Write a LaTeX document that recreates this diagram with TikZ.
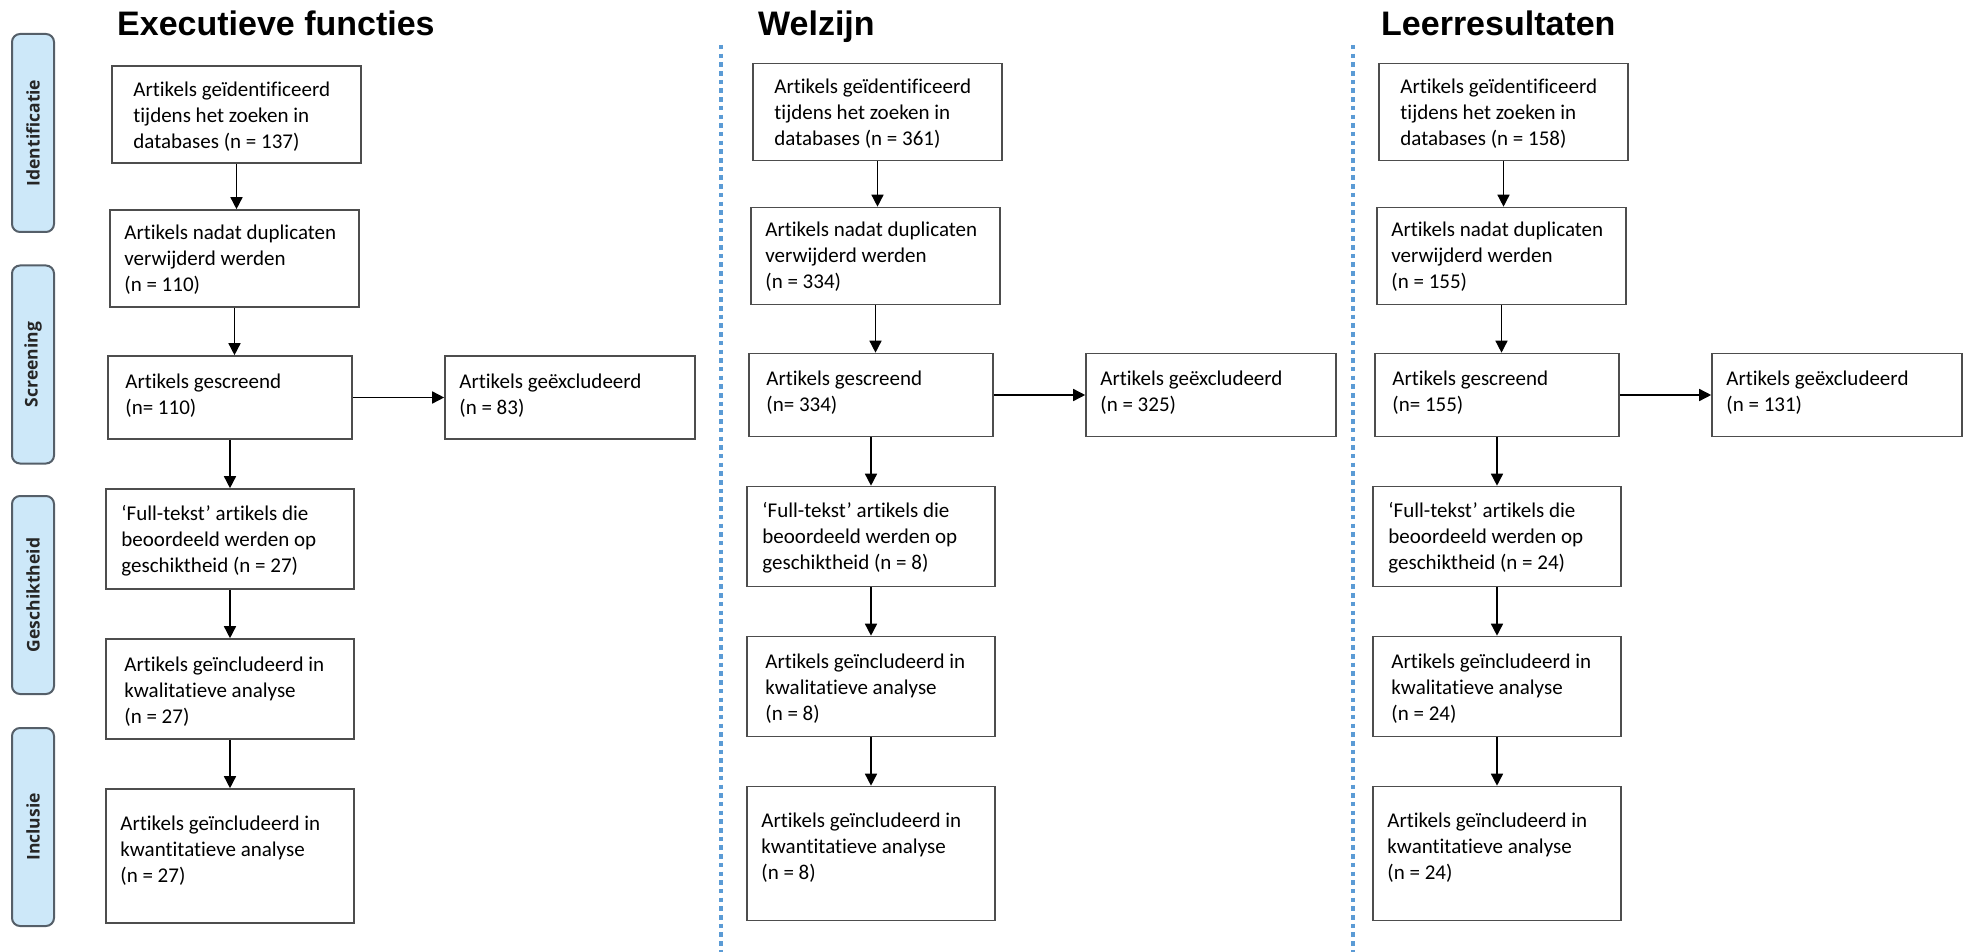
\documentclass[tikz,border=0pt]{standalone}
\usepackage{fontspec}
\setmainfont{Carlito}[Ligatures={NoCommon}]
\newfontfamily\titlefont{Liberation Sans}
\newfontfamily\barfont{Open Sans}
\usetikzlibrary{arrows.meta,calc}
\definecolor{boxline}{RGB}{77,77,77}
\definecolor{barfill}{RGB}{205,232,249}
\definecolor{barline}{RGB}{85,95,105}
\definecolor{sepblue}{RGB}{91,155,213}
\tikzset{
 flowbox/.style={draw=boxline, line width=1.6pt, rectangle, inner sep=0pt},
 boxtext/.style={anchor=north west, inner sep=0pt, align=left, font=\fontsize{21}{26}\selectfont},
 arr/.style={draw=black, line width=1.5pt, -{Triangle[length=12pt,width=12pt]}},
 phase/.style={draw=barline, line width=2pt, fill=barfill, rounded corners=8pt, rotate=90, minimum width=198pt, minimum height=42pt, inner sep=0pt, font=\barfont\bfseries\fontsize{17.5}{20}\selectfont, text=black!85},
 coltitle/.style={anchor=base west, inner sep=0pt, font=\titlefont\bfseries\fontsize{34}{40}\selectfont},
 sepline/.style={draw=sepblue, line width=4.5pt, dash pattern=on 4.5pt off 4.2pt},
}
\newcommand{\flowcol}[8]{%
\begin{scope}[shift={(#2,#8)}]
 \node[flowbox, minimum width=249pt, minimum height=97pt] (#1a) at (236.5,114.5) {};
 \node[flowbox, minimum width=249pt, minimum height=97pt] (#1b) at (234.5,258.5) {};
 \node[flowbox, minimum width=244pt, minimum height=83pt] (#1c) at (230,397.5) {};
 \node[flowbox, minimum width=250pt, minimum height=83pt] (#1x) at (570,397.5) {};
 \node[flowbox, minimum width=248pt, minimum height=100pt] (#1d) at (230,539) {};
 \node[flowbox, minimum width=248pt, minimum height=100pt] (#1e) at (230,689) {};
 \node[flowbox, minimum width=248pt, minimum height=134pt] (#1f) at (230,856) {};
 \node[boxtext] (#1ta) at ($(#1a.north west)+(22,16.5)$) {Artikels geïdentificeerd\\tijdens het zoeken in\\databases (n = #3)};
 \node[boxtext] (#1tb) at ($(#1b.north west)+(15,15.5)$) {Artikels nadat duplicaten\\verwijderd werden\\(n = #4)};
 \node[boxtext] (#1tc) at ($(#1c.north west)+(18,18.5)$) {Artikels gescreend\\(n= #5)};
 \node[boxtext] (#1tx) at ($(#1x.north west)+(15,18.5)$) {Artikels geëxcludeerd\\(n = #6)};
 \node[boxtext] (#1td) at ($(#1d.north west)+(16,16.5)$) {‘Full-tekst’ artikels die\\beoordeeld werden op\\geschiktheid (n = #7)};
 \node[boxtext] (#1te) at ($(#1e.north west)+(19,18.5)$) {Artikels geïncludeerd in\\kwalitatieve analyse\\(n = #7)};
 \node[boxtext] (#1tf) at ($(#1f.north west)+(15,27.5)$) {Artikels geïncludeerd in\\kwantitatieve analyse\\(n = #7)};
 \draw[arr] (#1a.south) -- (#1a.south |- #1b.north);
 \draw[arr] (#1b.south) -- (#1b.south |- #1c.north);
 \draw[arr] (#1c.south) -- (#1c.south |- #1d.north);
 \draw[arr] (#1d.south) -- (#1d.south |- #1e.north);
 \draw[arr] (#1e.south) -- (#1e.south |- #1f.north);
 \draw[arr] (#1c.east) -- (#1x.west);
\end{scope}}
\begin{document}
\begin{tikzpicture}[x=1pt,y=-1pt]
\useasboundingbox (0,0) rectangle (1966,952);
% phase bars
\node[phase] (pid) at (33,133) {Identificatie};
\node[phase] (psc) at (33,364.5) {Screening};
\node[phase] (pge) at (33,595) {Geschiktheid};
\node[phase] (pin) at (33,827) {Inclusie};
% titles
\node[coltitle] (tE) at (117,36) {Executieve functies};
\node[coltitle] (tW) at (758,36) {Welzijn};
\node[coltitle] (tL) at (1381,36) {Leerresultaten};
% separators
\coordinate (s1t) at (721,45);
\coordinate (s1b) at (721,952);
\coordinate (s2t) at (1353,45);
\coordinate (s2b) at (1353,952);
\draw[sepline] (s1t) -- (s1b);
\draw[sepline] (s2t) -- (s2b);
% columns
\flowcol{E}{0}{137}{110}{110}{83}{27}{0}
\flowcol{W}{641}{361}{334}{334}{325}{8}{-2.5}
\flowcol{L}{1267}{158}{155}{155}{131}{24}{-2.5}
\end{tikzpicture}
\end{document}
